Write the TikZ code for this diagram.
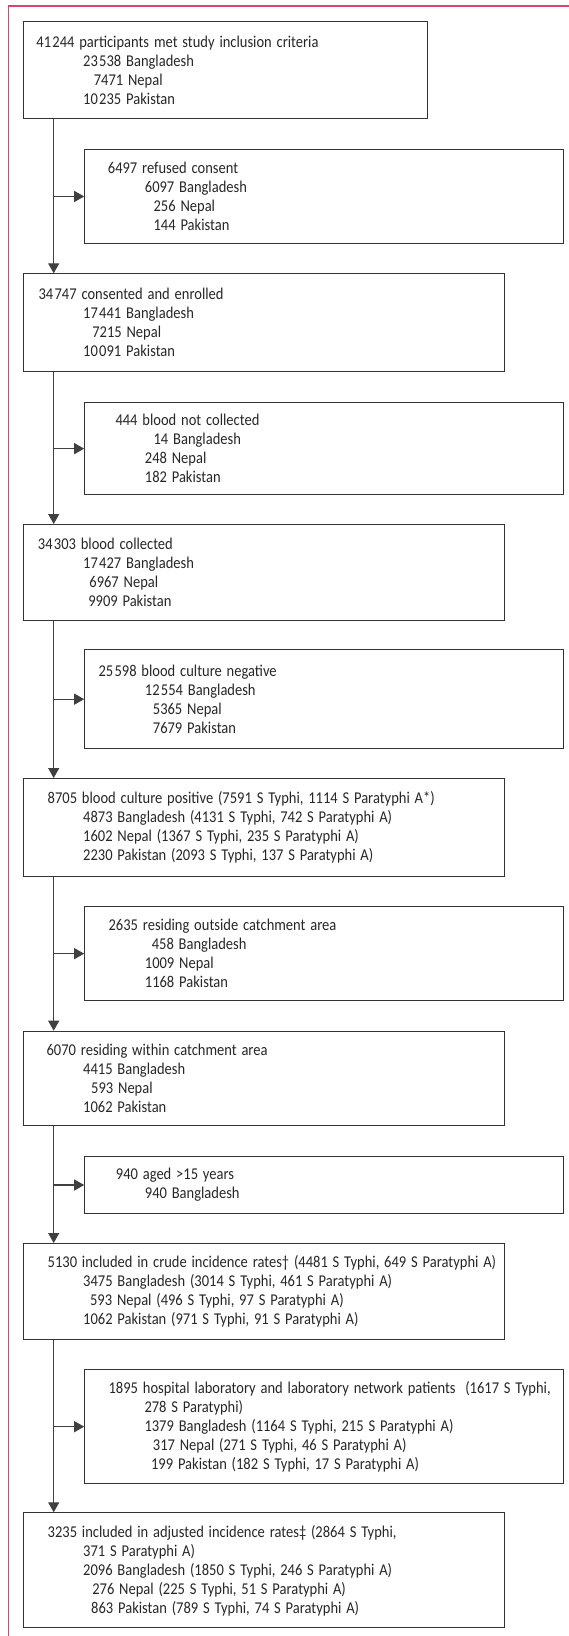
\documentclass[tikz,border=0pt]{standalone}
\usepackage{graphicx}
\usepackage{fontspec}
\setmainfont{Carlito}
\usetikzlibrary{arrows.meta}
\definecolor{framepink}{RGB}{214,70,110}
\newcommand{\boxline}[2]{\hspace*{#1pt}\scalebox{0.88}[1]{#2}}
\newcommand{\thou}{\kern1.5pt}

\begin{document}
\begin{tikzpicture}[x=1pt,y=-1pt,>={Triangle[length=10pt,width=11pt]},
  box/.style={draw=black!80,line width=1pt,anchor=north west,inner xsep=0pt,inner ysep=0pt,
    align=left,text=black!85,font=\fontsize{16.5pt}{19pt}\selectfont},
  mainbox/.style={box,minimum width=481.5pt,text width=481.5pt},
  sidebox/.style={box,minimum width=478.7pt,text width=478.7pt},
  flow/.style={->,draw=black!75,line width=1.1pt}]
  \useasboundingbox (0,0) rectangle (569,1636);
  % page frame
  \draw[framepink,line width=1.2pt] (8.5,1640) |- (572,6);
  \coordinate (spine) at (53.7,0);

  % main column
  \node[box,minimum width=404.2pt,text width=404.2pt,minimum height=97pt] (incl) at (22.9,21)
    {\boxline{13}{41\thou244 participants met study inclusion criteria}\\
     \boxline{59.8}{23\thou538 Bangladesh}\\
     \boxline{70.4}{7471 Nepal}\\
     \boxline{59.8}{10\thou235 Pakistan}};
  \node[mainbox,minimum height=98pt] (enrolled) at (22.9,273.3)
    {\boxline{15.2}{34\thou747 consented and enrolled}\\
     \boxline{59.8}{17\thou441 Bangladesh}\\
     \boxline{68.9}{7215 Nepal}\\
     \boxline{59.8}{10\thou091 Pakistan}};
  \node[mainbox,minimum height=96pt] (collected) at (22.9,524)
    {\boxline{14.5}{34\thou303 blood collected}\\
     \boxline{59.8}{17\thou427 Bangladesh}\\
     \boxline{66}{6967 Nepal}\\
     \boxline{64.9}{9909 Pakistan}};
  \node[mainbox,minimum height=98.3pt] (positive) at (22.9,778)
    {\boxline{24.3}{8705 blood culture positive (7591 S Typhi, 1114 S Paratyphi A*)}\\
     \boxline{59.8}{4873 Bangladesh (4131 S Typhi, 742 S Paratyphi A)}\\
     \boxline{59.8}{1602 Nepal (1367 S Typhi, 235 S Paratyphi A)}\\
     \boxline{59.8}{2230 Pakistan (2093 S Typhi, 137 S Paratyphi A)}};
  \node[mainbox,minimum height=94pt] (within) at (22.9,1030.7)
    {\boxline{23.2}{6070 residing within catchment area}\\
     \boxline{59.8}{4415 Bangladesh}\\
     \boxline{67.8}{593 Nepal}\\
     \boxline{59.8}{1062 Pakistan}};
  \node[mainbox,minimum height=96pt] (crude) at (22.9,1243)
    {\boxline{24.3}{5130 included in crude incidence rates† (4481 S Typhi, 649 S Paratyphi A)}\\
     \boxline{59.8}{3475 Bangladesh (3014 S Typhi, 461 S Paratyphi A)}\\
     \boxline{66.7}{593 Nepal (496 S Typhi, 97 S Paratyphi A)}\\
     \boxline{59.8}{1062 Pakistan (971 S Typhi, 91 S Paratyphi A)}};
  \node[mainbox,minimum height=115pt] (adjusted) at (22.9,1512.3)
    {\boxline{24.3}{3235 included in adjusted incidence rates‡ (2864 S Typhi,}\\
     \boxline{59.8}{371 S Paratyphi A)}\\
     \boxline{59.8}{2096 Bangladesh (1850 S Typhi, 246 S Paratyphi A)}\\
     \boxline{68.9}{276 Nepal (225 S Typhi, 51 S Paratyphi A)}\\
     \boxline{67.8}{863 Pakistan (789 S Typhi, 74 S Paratyphi A)}};

  % exclusions
  \node[sidebox,minimum height=94.5pt] (refused) at (84.2,148.7)
    {\boxline{23.2}{6497 refused consent}\\
     \boxline{60.2}{6097 Bangladesh}\\
     \boxline{68.9}{256 Nepal}\\
     \boxline{68.9}{144 Pakistan}};
  \node[sidebox,minimum height=91.7pt] (nocoll) at (84.2,402.3)
    {\boxline{30.8}{444 blood not collected}\\
     \boxline{68.9}{14 Bangladesh}\\
     \boxline{60.2}{248 Nepal}\\
     \boxline{60.2}{182 Pakistan}};
  \node[sidebox,minimum height=98.7pt] (negative) at (84.2,649.3)
    {\boxline{13.8}{25\thou598 blood culture negative}\\
     \boxline{60.2}{12\thou554 Bangladesh}\\
     \boxline{68.2}{5365 Nepal}\\
     \boxline{68.2}{7679 Pakistan}};
  \node[sidebox,minimum height=93.7pt] (outside) at (84.2,906.3)
    {\boxline{23.9}{2635 residing outside catchment area}\\
     \boxline{67.1}{458 Bangladesh}\\
     \boxline{60.2}{1009 Nepal}\\
     \boxline{60.2}{1168 Pakistan}};
  \node[sidebox,minimum height=57.6pt] (aged) at (84.2,1155.7)
    {\boxline{31.2}{940 aged >15 years}\\
     \boxline{60.2}{940 Bangladesh}};
  \node[sidebox,minimum height=113.7pt] (hosp) at (84.2,1369.3)
    {\boxline{23.9}{1895 hospital laboratory and laboratory network patients\ \ (1617 S Typhi,}\\
     \boxline{59.8}{278 S Paratyphi)}\\
     \boxline{59.8}{1379 Bangladesh (1164 S Typhi, 215 S Paratyphi A)}\\
     \boxline{68.2}{317 Nepal (271 S Typhi, 46 S Paratyphi A)}\\
     \boxline{66.4}{199 Pakistan (182 S Typhi, 17 S Paratyphi A)}};

  % connectors
  \foreach \a/\b in {incl/enrolled,enrolled/collected,collected/positive,
                     positive/within,within/crude,crude/adjusted}
    \draw[flow] (\a.south -| spine) -- (\b.north -| spine);
  \foreach \s in {refused,nocoll,negative,outside,aged,hosp}
    \draw[flow] (\s.west -| spine) -- (\s.west);
\end{tikzpicture}
\end{document}
